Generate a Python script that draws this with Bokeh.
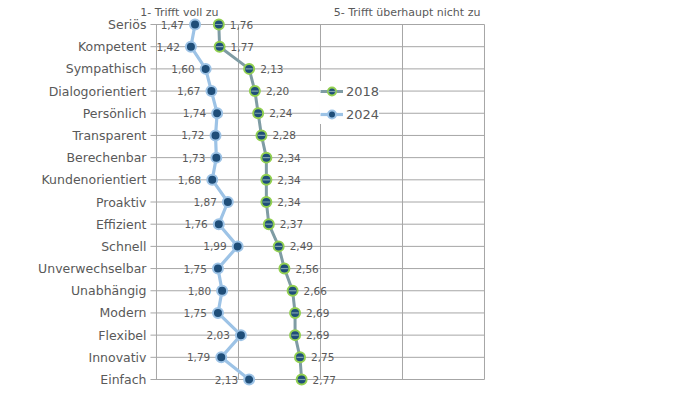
from bokeh.plotting import figure
from bokeh.models import ColumnDataSource, Range1d, Label, Legend
from bokeh.core.properties import value
from bokeh.embed import file_html
from bokeh.resources import INLINE

categories = ["Seriös", "Kompetent", "Sympathisch", "Dialogorientiert", "Persönlich",
              "Transparent", "Berechenbar", "Kundenorientiert", "Proaktiv", "Effizient",
              "Schnell", "Unverwechselbar", "Unabhängig", "Modern", "Flexibel",
              "Innovativ", "Einfach"]
values_2018 = [1.76, 1.77, 2.13, 2.20, 2.24, 2.28, 2.34, 2.34, 2.34, 2.37,
               2.49, 2.56, 2.66, 2.69, 2.69, 2.75, 2.77]
values_2024 = [1.47, 1.42, 1.60, 1.67, 1.74, 1.72, 1.73, 1.68, 1.87, 1.76,
               1.99, 1.75, 1.80, 1.75, 2.03, 1.79, 2.13]
x_ticks = [1, 2, 3, 4, 5]
scale_labels = ["1- Trifft voll zu", "5- Trifft überhaupt nicht zu"]

n = len(categories)
ypos = [n - 1 - i for i in range(n)]

FONT = "DejaVu Sans"
TXT = "#595959"
GRID = "#A6A6A6"
PX_X = 82.0          # pixels per x unit
TICK = 6 / PX_X      # tick length in data units

p = figure(width=700, height=395, output_backend="svg", toolbar_location=None,
           x_axis_location=None, y_axis_location=None,
           x_range=Range1d(-0.902, 7.634), y_range=Range1d(-0.721, 17.082),
           min_border_left=0, min_border_right=0, min_border_top=0, min_border_bottom=0)
p.outline_line_color = None
p.grid.visible = False

x0, x1 = x_ticks[0], x_ticks[-1]
# horizontal grid lines with outside ticks
p.segment(x0=[x0 - TICK] * n, x1=[x1] * n, y0=ypos, y1=ypos,
          line_color=GRID, line_width=1)
# vertical grid lines and axis line
p.segment(x0=x_ticks, x1=x_ticks, y0=[0] * len(x_ticks), y1=[n - 1] * len(x_ticks),
          line_color=GRID, line_width=1)

# category labels
p.text(x=[x0] * n, y=ypos, text=categories, x_offset=-10, text_align="right",
       text_baseline="middle", text_font=value(FONT), text_font_size="12.5px",
       text_color=TXT)

src18 = ColumnDataSource(dict(x=values_2018, y=ypos,
                              t=[f"{v:.2f}".replace(".", ",") for v in values_2018]))
src24 = ColumnDataSource(dict(x=values_2024, y=ypos,
                              t=[f"{v:.2f}".replace(".", ",") for v in values_2024]))

l18 = p.line("x", "y", source=src18, line_color="#7F9CA4", line_width=3)
m18 = p.scatter("x", "y", source=src18, marker="circle", size=10,
                fill_color="#1F4E79", line_color="#92D050", line_width=2)
d18 = p.scatter("x", "y", source=src18, marker="dash", size=7,
                line_color="#7FA3AE", line_width=1.2)
l24 = p.line("x", "y", source=src24, line_color="#9DC3E6", line_width=3.2)
m24 = p.scatter("x", "y", source=src24, marker="circle", size=10,
                fill_color="#1F4E79", line_color="#9DC3E6", line_width=2)

p.text("x", "y", text="t", source=src18, x_offset=11, text_align="left",
       text_baseline="middle", text_font=value(FONT), text_font_size="10.5px",
       text_color=TXT)
p.text("x", "y", text="t", source=src24, x_offset=-11, text_align="right",
       text_baseline="middle", text_font=value(FONT), text_font_size="10.5px",
       text_color=TXT)

p.add_layout(Label(x=1.28, y=16.54, text=scale_labels[0], text_align="center",
                   text_baseline="middle", text_font=FONT, text_font_size="11px",
                   text_color=TXT))
p.add_layout(Label(x=4.95, y=16.54, text=scale_labels[1], text_align="right",
                   text_baseline="middle", text_font=FONT, text_font_size="11px",
                   text_color=TXT))

legend = Legend(items=[("2018", [l18, m18, d18]), ("2024", [l24, m24])],
                location=(320, 271), padding=0, margin=0, spacing=3,
                label_height=20, glyph_width=23, glyph_height=20, label_standoff=3,
                label_text_font=FONT, label_text_font_size="13px",
                label_text_color=TXT, background_fill_color="white",
                background_fill_alpha=1, border_line_color=None)
p.add_layout(legend, "center")

open("out.html", "w").write(file_html(p, INLINE))
